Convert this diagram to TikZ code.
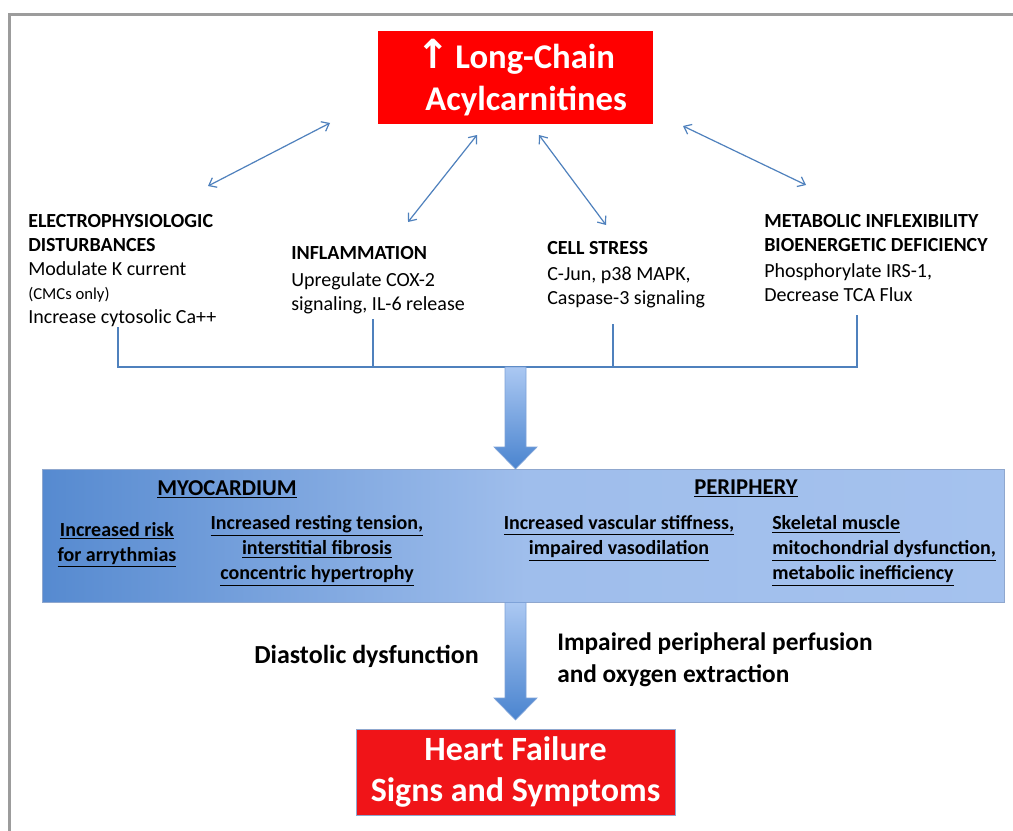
\documentclass[tikz,border=0pt]{standalone}
\usepackage{fontspec}
\setmainfont{Carlito}
\newfontfamily\symfont{DejaVu Sans}
\usetikzlibrary{arrows.meta}
\usetikzlibrary{calc}
\usetikzlibrary{positioning}
\definecolor{linkblue}{HTML}{4F81BD}
\definecolor{framegrey}{HTML}{9C9C9C}
\definecolor{boxred}{HTML}{FF0000}
\definecolor{hfred}{HTML}{F01418}
\definecolor{paneldark}{HTML}{568AD0}
\definecolor{panellight}{HTML}{A5C2EE}
\definecolor{panelline}{HTML}{8FA7CE}
\definecolor{arrowtop}{HTML}{ABC8F2}
\definecolor{arrowbot}{HTML}{4A84CF}
\definecolor{arrowline}{HTML}{7EA2D8}
\tikzstyle{every picture}=[>={Straight Barb[length=5pt,width=8pt]}, x=0.75pt, y=-0.75pt]
\tikzstyle{every node}=[font=\fontsize{15}{18}\selectfont]
\tikzstyle{redbox}=[rectangle, text=white, align=center, draw=panelline, line width=0.4pt]
\tikzstyle{effect}=[anchor=north west, inner sep=0pt, align=left]
\tikzstyle{outcome}=[inner sep=0pt, align=center, font=\fontsize{15}{18.75}\selectfont\bfseries]
\tikzstyle{link}=[<->, draw=linkblue, line width=0.9pt]
\tikzstyle{bus}=[draw=linkblue, line width=1.5pt]
\newcommand{\flowarrow}[2]{% #1 top of shaft, #2 tip
  \shade[top color=arrowtop, bottom color=arrowbot, draw=arrowline, line width=0.5pt]
    ($(#1)+(-10.5,0)$) -- ($(#2)+(-10.5,-22)$) -- ($(#2)+(-21.5,-22)$) -- (#2)
    -- ($(#2)+(21.5,-22)$) -- ($(#2)+(10.5,-22)$) -- ($(#1)+(10.5,0)$) -- cycle;}
\newcommand{\ul}[1]{\underline{#1}}

\begin{document}
\begin{tikzpicture}
\useasboundingbox[fill=white] (0,0) rectangle (1013,831);
\draw[framegrey, line width=2.25pt] (9.5,831) -- (9.5,14.5) -- (1013,14.5);

\node[redbox, fill=boxred, draw=none, minimum width=206.25pt, minimum height=69.75pt,
      font=\fontsize{26}{31}\selectfont\bfseries] (LCAC) at (515.5,77.5)
      {{\symfont\bfseries\fontsize{30}{31}\selectfont\char"2191}\,Long-Chain\\ \hspace*{16pt}Acylcarnitines};

\node[effect] (Electro) at (28,214) {\textbf{ELECTROPHYSIOLOGIC}\\
  \textbf{DISTURBANCES}\\ Modulate K current\\
  {\fontsize{12.5}{17}\selectfont (CMCs only)}\\ Increase cytosolic Ca++};
\node[effect] (Inflam) at (291,246.5) {\textbf{INFLAMMATION}\\[2pt]
  Upregulate COX-2\\ signaling, IL-6 release};
\node[effect] (Stress) at (547,241.5) {\textbf{CELL STRESS}\\[1pt]
  C-Jun, p38 MAPK,\\ Caspase-3 signaling};
\node[effect] (Metab) at (764,214.5) {\textbf{METABOLIC INFLEXIBILITY}\\
  \textbf{BIOENERGETIC DEFICIENCY}\\[1pt] Phosphorylate IRS-1,\\ Decrease TCA Flux};

% links to the acylcarnitine box
\coordinate (eTop) at (330,123);  \coordinate (eEnd) at (208,186);
\coordinate (iTop) at (477,135);  \coordinate (iEnd) at (408,222);
\coordinate (sTop) at (539,135);  \coordinate (sEnd) at (606,225);
\coordinate (mTop) at (683,126);  \coordinate (mEnd) at (806,185);
\draw[link] (eTop) -- (eEnd);
\draw[link] (iTop) -- (iEnd);
\draw[link] (sTop) -- (sEnd);
\draw[link] (mTop) -- (mEnd);

% collecting bracket
\coordinate (eBus) at (118,327);
\coordinate (iBus) at (373,319);
\coordinate (sBus) at (613,324);
\coordinate (mBus) at (857,315);
\coordinate (Bus) at (515.5,367);
\draw[bus] (eBus) -- (eBus |- Bus) -- (mBus |- Bus) -- (mBus);
\draw[bus] (iBus) -- (iBus |- Bus);
\draw[bus] (sBus) -- (sBus |- Bus);

\node[draw=panelline, line width=0.6pt, left color=paneldark, right color=panellight,
      middle color=panellight!92!paneldark, minimum width=721.5pt, minimum height=99.75pt,
      inner sep=0pt] (Panel) at (523,535.5) {};

\flowarrow{Bus}{515.5,469}

\node[outcome, font=\fontsize{17}{20}\selectfont\bfseries] (Myo) at (227,489) {\ul{MYOCARDIUM}};
\node[outcome, font=\fontsize{17}{20}\selectfont\bfseries] (Peri) at (746,488) {\ul{PERIPHERY}};
\node[outcome, anchor=north] (Risk) at (117,522) {\ul{Increased risk}\\ \ul{for arrythmias}};
\node[outcome, anchor=north] (Tension) at (317,515.5) {\ul{Increased resting tension,}\\
  \ul{interstitial fibrosis}\\ \ul{concentric hypertrophy}};
\node[outcome, anchor=north] (Vasc) at (619,515.5) {\ul{Increased vascular stiffness,}\\
  \ul{impaired vasodilation}};
\node[outcome, anchor=north west, align=left] (Skel) at (772,515.5) {\ul{Skeletal muscle}\\
  \ul{mitochondrial dysfunction,}\\ \ul{metabolic inefficiency}};

\node[redbox, fill=hfred, minimum width=239.25pt, minimum height=64.5pt,
      font=\fontsize{25.5}{31}\selectfont\bfseries] (HF) at (515.5,772)
      {Heart Failure\\ Signs and Symptoms};

\flowarrow{515.5,602.5}{515.5,720}

\node[effect, font=\fontsize{19.5}{24}\selectfont\bfseries] (Diast) at (254,645) {Diastolic dysfunction};
\node[effect, font=\fontsize{19}{24}\selectfont\bfseries] (Perf) at (557,632.5)
      {Impaired peripheral perfusion\\ and oxygen extraction};
\end{tikzpicture}
\end{document}
